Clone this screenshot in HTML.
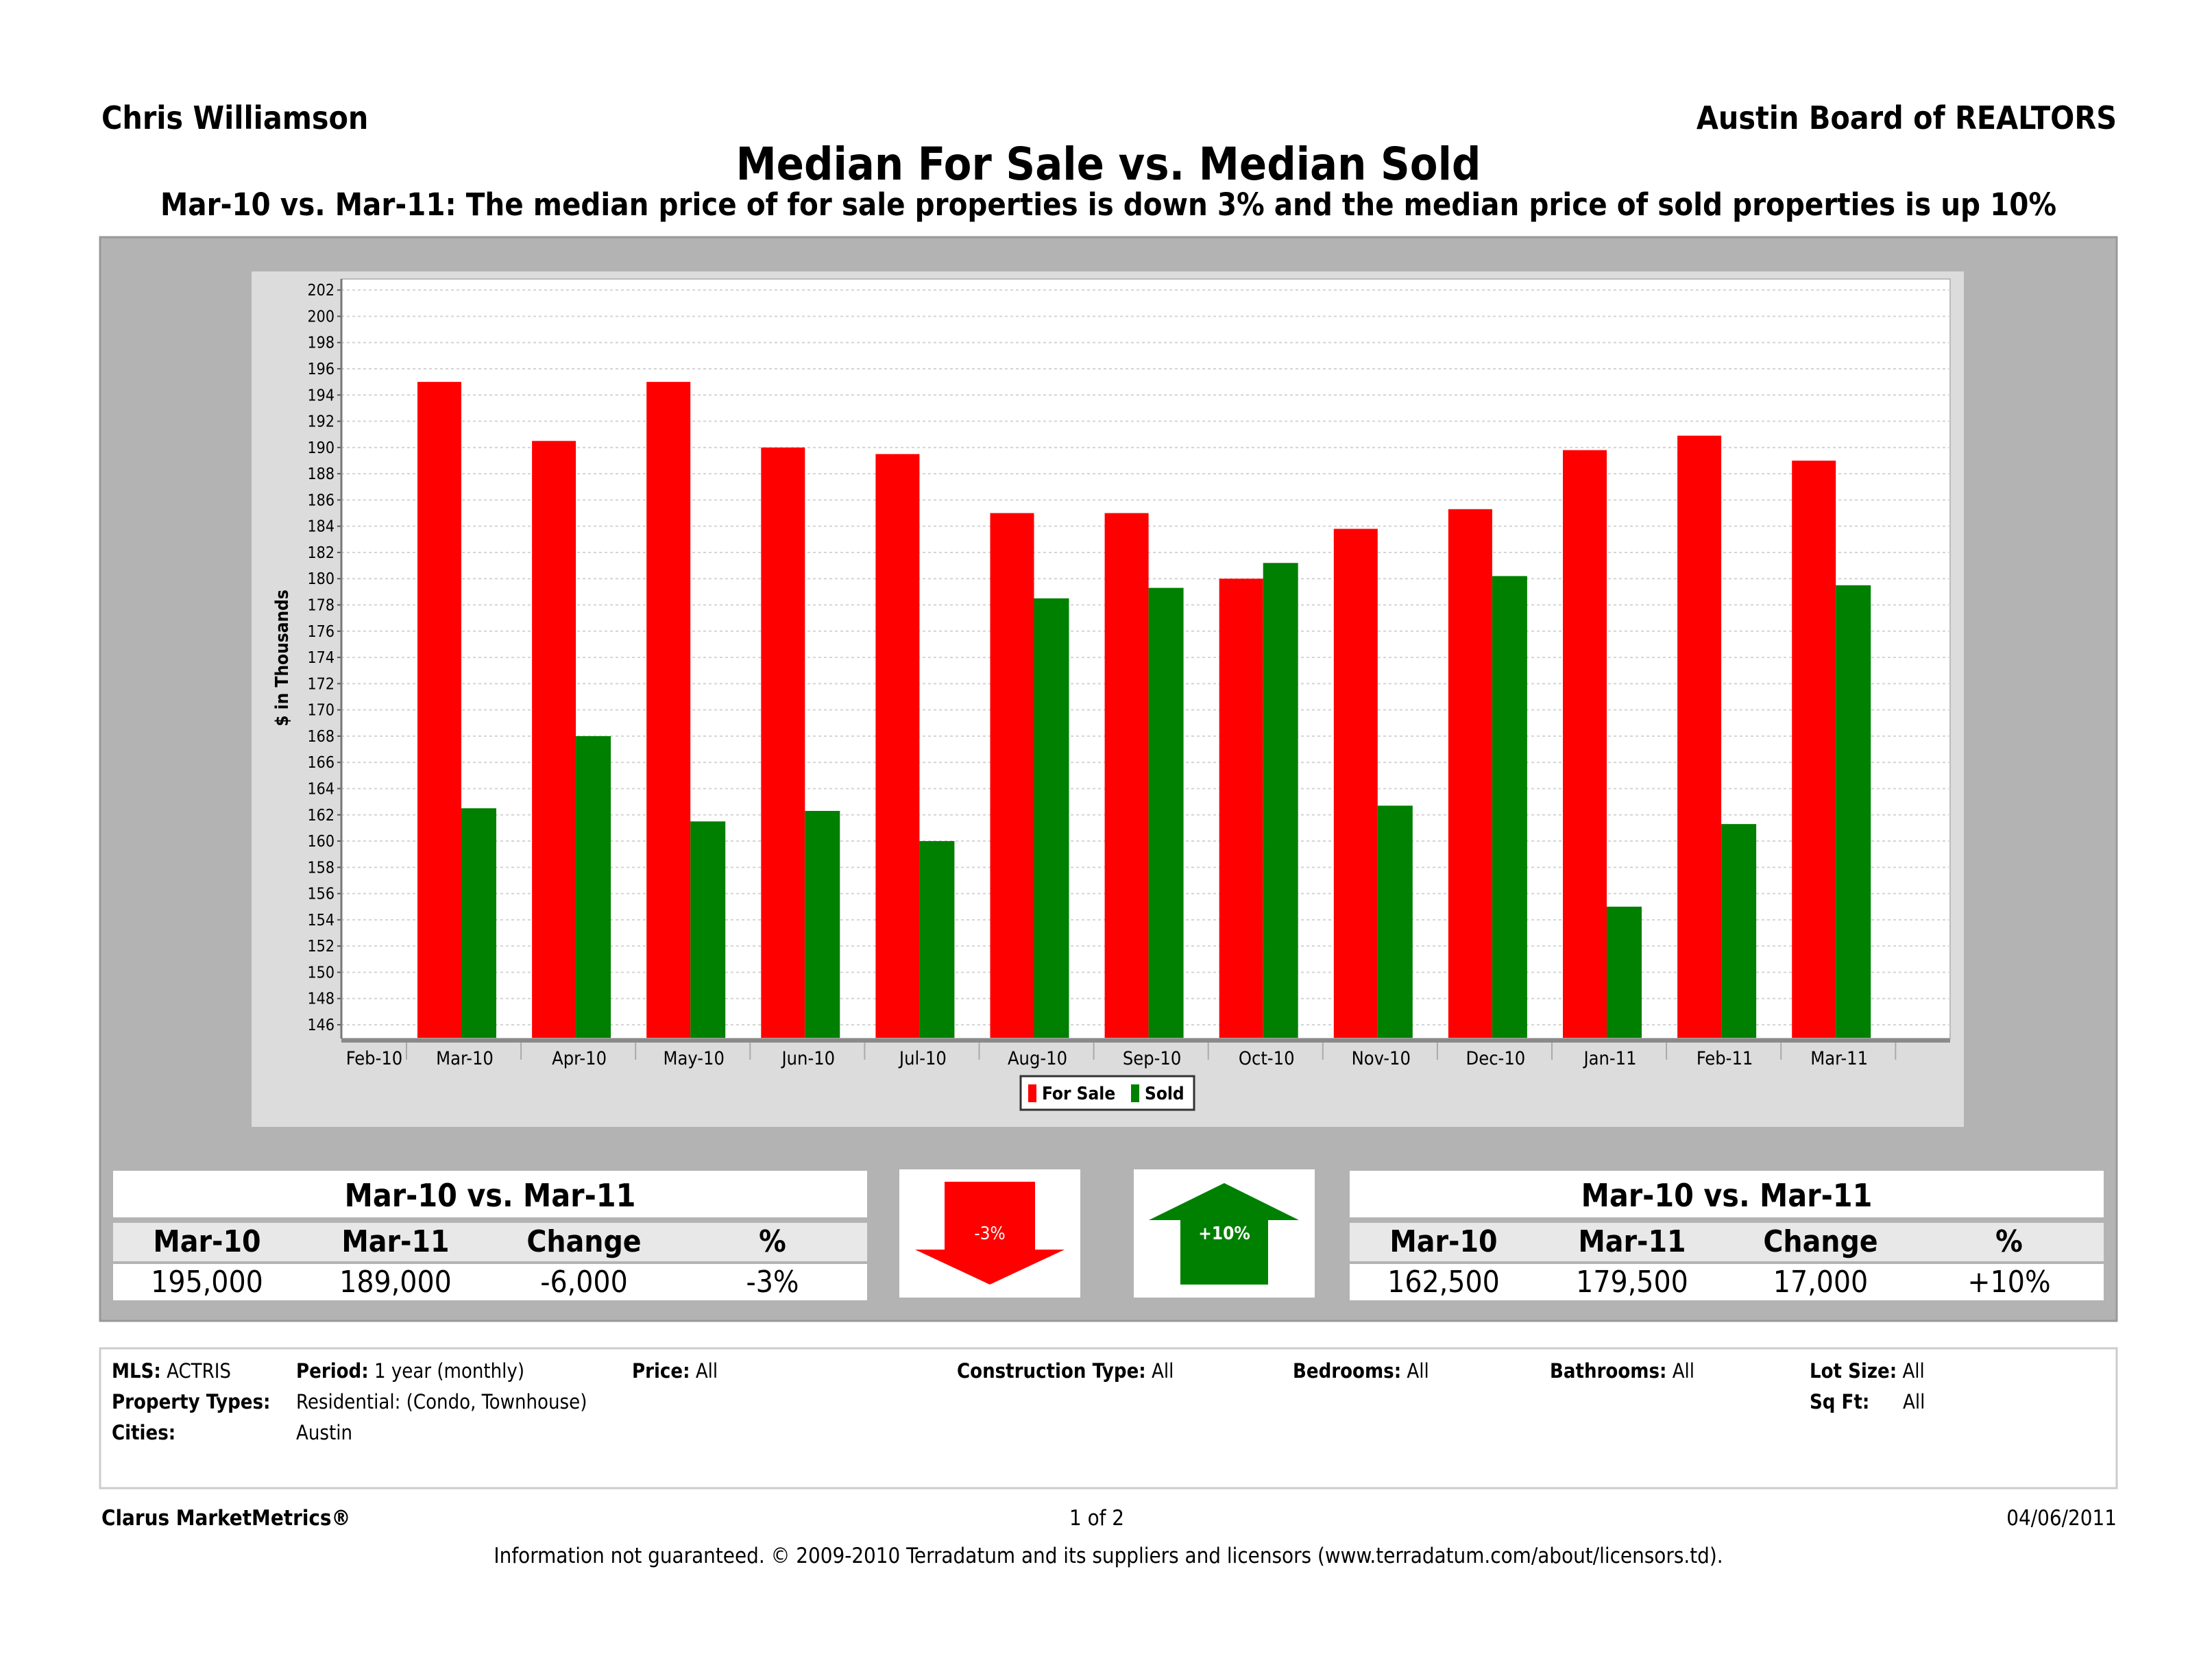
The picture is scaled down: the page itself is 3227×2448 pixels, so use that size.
<!DOCTYPE html>
<html><head><meta charset="utf-8">
<style>
html,body{margin:0;padding:0;background:#fff;}
svg{display:block;font-family:"DejaVu Sans Condensed","DejaVu Sans","Liberation Sans",sans-serif;font-stretch:condensed;}
</style></head>
<body>
<svg id="page" width="3227" height="2448" viewBox="0 0 3227 2448" xmlns="http://www.w3.org/2000/svg">
  <text x="148" y="188" font-size="46" font-weight="bold" fill="#000">Chris Williamson</text>
  <text x="3088" y="188" font-size="46" font-weight="bold" fill="#000" text-anchor="end">Austin Board of REALTORS</text>
  <text x="1617" y="262" font-size="66" font-weight="bold" fill="#000" text-anchor="middle">Median For Sale vs. Median Sold</text>
  <text x="1617" y="314" font-size="45" font-weight="bold" fill="#000" text-anchor="middle">Mar-10 vs. Mar-11:  The median price of for sale properties is down 3% and the median price of sold properties is up 10%</text>

  <rect x="146" y="346" width="2942" height="1581" fill="#b3b3b3" stroke="#999" stroke-width="3"/>
  <rect x="367" y="396" width="2498" height="1248" fill="#dcdcdc"/>
  <rect x="498" y="407" width="2347" height="1108" fill="#fff" stroke="#bbb" stroke-width="2"/>
  <g id="grid"></g>
  <g id="bars"></g>
  <g id="axes"></g>
  <text transform="translate(420,960) rotate(-90)" font-size="26" font-weight="bold" text-anchor="middle" fill="#000">$ in Thousands</text>

  <g>
    <rect x="1489" y="1570" width="253" height="49" fill="#fff" stroke="#333" stroke-width="3"/>
    <rect x="1500" y="1582" width="12" height="26" fill="#ff0000"/>
    <text x="1520" y="1604" font-size="26" font-weight="bold">For Sale</text>
    <rect x="1650" y="1582" width="12" height="26" fill="#008000"/>
    <text x="1670" y="1604" font-size="26" font-weight="bold">Sold</text>
  </g>

  <g>
    <rect x="165" y="1708" width="1100" height="68" fill="#fff"/>
    <text x="715" y="1760" font-size="46" font-weight="bold" text-anchor="middle">Mar-10 vs. Mar-11</text>
    <rect x="165" y="1784" width="1100" height="56" fill="#e8e8e8"/>
    <rect x="165" y="1844" width="1100" height="53" fill="#fff"/>
    <g font-size="44" text-anchor="middle">
      <text x="302" y="1826" font-weight="bold">Mar-10</text>
      <text x="577" y="1826" font-weight="bold">Mar-11</text>
      <text x="852" y="1826" font-weight="bold">Change</text>
      <text x="1127" y="1826" font-weight="bold">%</text>
      <text x="302" y="1885">195,000</text>
      <text x="577" y="1885">189,000</text>
      <text x="852" y="1885">-6,000</text>
      <text x="1127" y="1885">-3%</text>
    </g>
  </g>

  <g>
    <rect x="1312" y="1706" width="264" height="187" fill="#fff"/>
    <polygon points="1378,1724 1510,1724 1510,1823 1553,1823 1444,1874 1335,1823 1378,1823" fill="#ff0000"/>
    <text x="1444" y="1808" font-size="26" fill="#fff" text-anchor="middle">-3%</text>
  </g>
  <g>
    <rect x="1654" y="1706" width="264" height="187" fill="#fff"/>
    <polygon points="1786,1726 1895,1780 1850,1780 1850,1874 1722,1874 1722,1780 1676,1780" fill="#008000"/>
    <text x="1786" y="1808" font-size="26" font-weight="bold" fill="#fff" text-anchor="middle">+10%</text>
  </g>

  <g>
    <rect x="1969" y="1708" width="1100" height="68" fill="#fff"/>
    <text x="2519" y="1760" font-size="46" font-weight="bold" text-anchor="middle">Mar-10 vs. Mar-11</text>
    <rect x="1969" y="1784" width="1100" height="56" fill="#e8e8e8"/>
    <rect x="1969" y="1844" width="1100" height="53" fill="#fff"/>
    <g font-size="44" text-anchor="middle">
      <text x="2106" y="1826" font-weight="bold">Mar-10</text>
      <text x="2381" y="1826" font-weight="bold">Mar-11</text>
      <text x="2656" y="1826" font-weight="bold">Change</text>
      <text x="2931" y="1826" font-weight="bold">%</text>
      <text x="2106" y="1885">162,500</text>
      <text x="2381" y="1885">179,500</text>
      <text x="2656" y="1885">17,000</text>
      <text x="2931" y="1885">+10%</text>
    </g>
  </g>

  <g font-size="29">
    <rect x="146" y="1967" width="2942" height="204" fill="#fff" stroke="#ccc" stroke-width="3"/>
    <text x="163" y="2010"><tspan font-weight="bold">MLS:</tspan>  ACTRIS</text>
    <text x="432" y="2010"><tspan font-weight="bold">Period:</tspan>  1 year (monthly)</text>
    <text x="922" y="2010"><tspan font-weight="bold">Price:</tspan>  All</text>
    <text x="1396" y="2010"><tspan font-weight="bold">Construction Type:</tspan> All</text>
    <text x="1886" y="2010"><tspan font-weight="bold">Bedrooms:</tspan>  All</text>
    <text x="2261" y="2010"><tspan font-weight="bold">Bathrooms:</tspan> All</text>
    <text x="2640" y="2010"><tspan font-weight="bold">Lot Size:</tspan> All</text>
    <text x="163" y="2055" font-weight="bold">Property Types:</text>
    <text x="432" y="2055">Residential: (Condo, Townhouse)</text>
    <text x="2640" y="2055" font-weight="bold">Sq Ft:</text>
    <text x="2776" y="2055">All</text>
    <text x="163" y="2100" font-weight="bold">Cities:</text>
    <text x="432" y="2100">Austin</text>
  </g>

  <text x="148" y="2225" font-size="31" font-weight="bold">Clarus MarketMetrics®</text>
  <text x="1600" y="2225" font-size="31" text-anchor="middle">1 of 2</text>
  <text x="3088" y="2225" font-size="31" text-anchor="end">04/06/2011</text>
  <text x="1617" y="2280" font-size="31" text-anchor="middle">Information not guaranteed.  © 2009-2010 Terradatum and its suppliers and licensors (www.terradatum.com/about/licensors.td).</text>
</svg>
<script>
const categories = ["Mar-10","Apr-10","May-10","Jun-10","Jul-10","Aug-10","Sep-10","Oct-10","Nov-10","Dec-10","Jan-11","Feb-11","Mar-11"];
const forSale = [195.0,190.5,195.0,190.0,189.5,185.0,185.0,180.0,183.8,185.3,189.8,190.9,189.0];
const sold = [162.5,168.0,161.5,162.3,160.0,178.5,179.3,181.2,162.7,180.2,155.0,161.3,179.5];
const yTicks = [146,148,150,152,154,156,158,160,162,164,166,168,170,172,174,176,178,180,182,184,186,188,190,192,194,196,198,200,202];
const startLabel = "Feb-10";

const NS = "http://www.w3.org/2000/svg";
const plotL = 498, plotR = 2845, plotT = 407, plotB = 1515;
function yScale(v){ return 1495 - (v - 146) * 19.14; }
const slot = 167.1, firstLeft = 593;
function xLeft(i){ return firstLeft + i * slot; }
function mk(tag, attrs, parent){ const e = document.createElementNS(NS, tag); for (const k in attrs) e.setAttribute(k, attrs[k]); parent.appendChild(e); return e; }

const grid = document.getElementById('grid'), bars = document.getElementById('bars'), axes = document.getElementById('axes');
yTicks.forEach(t => {
  const y = yScale(t);
  const gl = mk('line', {x1: plotL, x2: plotR, y1: y, y2: y, stroke: '#d4d4d4', 'stroke-width': 2, 'stroke-dasharray': '4,4'}, grid);
  
  
  const tk = mk('line', {x1: plotL - 6, x2: plotL, y1: y, y2: y, stroke: '#555', 'stroke-width': 2}, axes);
  
  
  const lb = mk('text', {x: plotL - 10, y: y + 8, 'font-size': 23, 'text-anchor': 'end', fill: '#000'}, axes);
  lb.textContent = t;
  
  
});
const base = yScale(145);
categories.forEach((c, i) => {
  const l = xLeft(i) + 16;
  const r = mk('rect', {x: l, y: yScale(forSale[i]), width: 64, height: base - yScale(forSale[i]), fill: '#ff0000'}, bars);
  
  
  const g = mk('rect', {x: l + 64, y: yScale(sold[i]), width: 51, height: base - yScale(sold[i]), fill: '#008000'}, bars);
  
  
  const lb = mk('text', {x: xLeft(i) + 85, y: 1553, 'font-size': 27, 'text-anchor': 'middle', fill: '#000'}, axes);
  lb.textContent = c;
  
  
  const sp = mk('line', {x1: xLeft(i) + slot, x2: xLeft(i) + slot, y1: 1520, y2: 1546, stroke: '#aaa', 'stroke-width': 2}, axes);
  
  
});
const fl = mk('text', {x: 546, y: 1553, 'font-size': 27, 'text-anchor': 'middle', fill: '#000'}, axes);
fl.textContent = startLabel;


const fs = mk('line', {x1: firstLeft, x2: firstLeft, y1: 1520, y2: 1546, stroke: '#aaa', 'stroke-width': 2}, axes);


const xa = mk('rect', {x: plotL, y: plotB, width: plotR - plotL, height: 6, fill: '#8a8a8a'}, axes);


const ya = mk('line', {x1: plotL, x2: plotL, y1: plotT, y2: plotB, stroke: '#777', 'stroke-width': 3}, axes);


</script>
</body></html>
